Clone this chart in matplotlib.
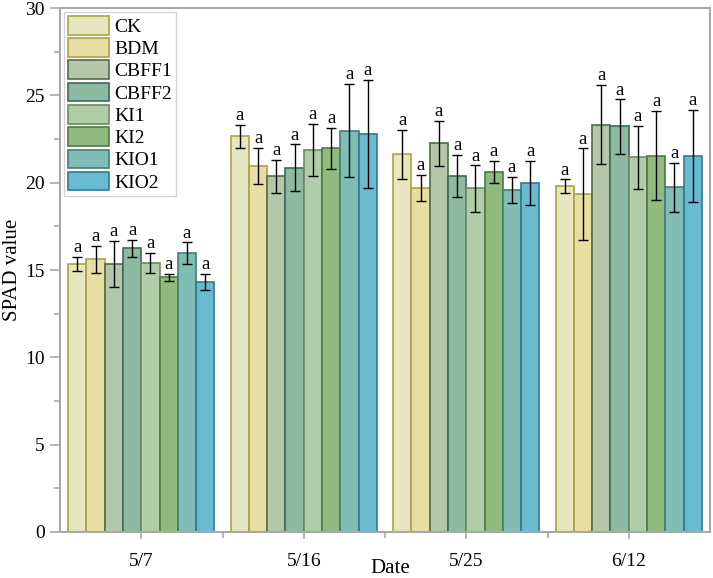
import matplotlib
matplotlib.use("Agg")
import matplotlib.pyplot as plt
import numpy as np

plt.rcParams['font.family'] = ['Liberation Serif', 'DejaVu Serif']

dates = ['5/7', '5/16', '5/25', '6/12']
treatments = ['CK', 'BDM', 'CBFF1', 'CBFF2', 'KI1', 'KI2', 'KIO1', 'KIO2']

# SPAD means per treatment for each date
ck = [15.34, 22.67, 21.62, 19.79]
bdm = [15.61, 20.95, 19.71, 19.33]
cbff1 = [15.34, 20.36, 22.25, 23.32]
cbff2 = [16.24, 20.87, 20.40, 23.22]
ki1 = [15.40, 21.87, 19.67, 21.45]
ki2 = [14.58, 21.96, 20.62, 21.54]
kio1 = [15.95, 22.99, 19.59, 19.73]
kio2 = [14.31, 22.78, 19.99, 21.54]

# error bars
ck_err = [0.40, 0.66, 1.40, 0.40]
bdm_err = [0.76, 1.05, 0.73, 2.63]
cbff1_err = [1.33, 0.96, 1.31, 2.27]
cbff2_err = [0.50, 1.32, 1.19, 1.55]
ki1_err = [0.58, 1.50, 1.32, 1.80]
ki2_err = [0.19, 1.19, 0.65, 2.55]
kio1_err = [0.63, 2.68, 0.76, 1.40]
kio2_err = [0.48, 3.09, 1.28, 2.62]

letters = ['a'] * 4

means = [ck, bdm, cbff1, cbff2, ki1, ki2, kio1, kio2]
errs = [ck_err, bdm_err, cbff1_err, cbff2_err, ki1_err, ki2_err, kio1_err, kio2_err]

face_colors = ['#E6E7C0', '#E8DDA3', '#B5C7AA', '#8EB9A2',
               '#B0CCA9', '#90BA80', '#80BDB4', '#6ABAD0']
edge_colors = ['#A9A63A', '#ACA049', '#4F6B4A', '#3D6A5A',
               '#6E8A63', '#4E7A45', '#3E7F78', '#2F7A93']

fig = plt.figure(figsize=(7.13, 5.78), dpi=100)
ax = fig.add_axes([0.0842, 0.0796, 0.9116, 0.9064])

x = np.arange(len(dates))
n = len(treatments)
width = 0.9 / n

for i, (name, m, e) in enumerate(zip(treatments, means, errs)):
    pos = x - 0.45 + width * (i + 0.5)
    ax.bar(pos, m, width, color=face_colors[i], edgecolor=edge_colors[i],
           linewidth=1.2, label=name, zorder=2)
    ax.errorbar(pos, m, yerr=e, fmt='none', ecolor='black', elinewidth=1,
                capsize=3.6, capthick=1, zorder=3)
    for px, mv, ev, lt in zip(pos, m, e, letters):
        ax.text(px, mv + ev + 0.05, lt, ha='center', va='bottom', fontsize=13.5)

ax.set_xlim(-0.5, 3.5)
ax.set_ylim(0, 30)
ax.set_xticks(x)
ax.set_xticklabels(dates, fontsize=14)
ax.set_xticks([0.5, 1.5, 2.5], minor=True)
ax.set_yticks(np.arange(0, 31, 5))
ax.set_yticks(np.arange(0, 30.1, 2.5), minor=True)
ax.tick_params(axis='y', labelsize=14)

for s in ax.spines.values():
    s.set_color('#A8A8A8')
    s.set_linewidth(1.5)

ax.tick_params(axis='both', which='both', direction='out', color='#A8A8A8', width=1.2)
ax.tick_params(axis='y', which='major', length=7, pad=4)
ax.tick_params(axis='y', which='minor', length=4)
ax.tick_params(axis='x', which='major', length=5, pad=10)
ax.tick_params(axis='x', which='minor', length=4)

ax.set_ylabel('SPAD value', fontsize=15, labelpad=2)
fig.text(390 / 713, 0.0, 'Date', ha='center', va='bottom', fontsize=15)

leg = ax.legend(loc='upper left', fontsize=14, frameon=True, fancybox=False,
                handlelength=2.1, handleheight=1.1, labelspacing=0.12,
                handletextpad=0.3, borderpad=0.2, borderaxespad=0.2)
leg.get_frame().set_edgecolor('#C8C8C8')
leg.get_frame().set_linewidth(1)

fig.savefig('out.png', dpi=100)
